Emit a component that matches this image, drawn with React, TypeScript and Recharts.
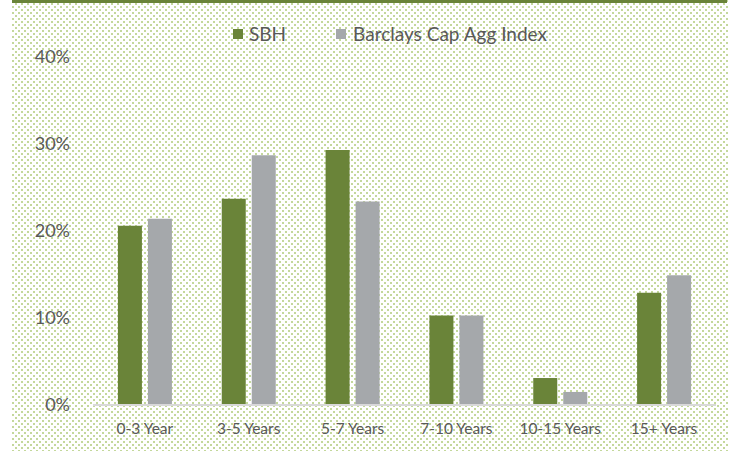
import * as React from 'react';
import { BarChart, Bar, XAxis, YAxis } from 'recharts';

const categories = ['0-3 Year', '3-5 Years', '5-7 Years', '7-10 Years', '10-15 Years', '15+ Years'];
const sbh = [0.206, 0.237, 0.293, 0.103, 0.031, 0.129];
const barclays = [0.214, 0.287, 0.234, 0.103, 0.015, 0.149];
const yTicks = [0, 0.1, 0.2, 0.3, 0.4];

const GREEN = '#6a8439';
const GRAY = '#a5a8ab';
const TEXT = '#595959';
const FONT = 'Lato, "Open Sans", sans-serif';

const dots =
  "url(\"data:image/svg+xml;utf8,<svg xmlns='http://www.w3.org/2000/svg' width='6' height='6'>" +
  "<rect x='0' y='0' width='2' height='2' fill='%23c4d89c'/>" +
  "<rect x='3' y='3' width='2' height='2' fill='%23c4d89c'/></svg>\")";

const data = categories.map((name, i) => ({ name, sbh: sbh[i], barclays: barclays[i] }));

export default function App() {
  return (
    <div style={{ position: 'relative', width: 729, height: 451, background: '#fff', fontFamily: FONT }}>
      <style>{'body{margin:0}'}</style>
      {/* patterned chart area */}
      <div
        style={{
          position: 'absolute',
          left: 12,
          top: 0,
          width: 717,
          height: 451,
          backgroundImage: dots,
        }}
      />
      <div style={{ position: 'absolute', left: 12, top: 0, width: 715, height: 3, background: GREEN }} />

      {/* legend */}
      <div
        style={{
          position: 'absolute',
          top: 22,
          left: 233,
          display: 'flex',
          alignItems: 'center',
          fontSize: 19,
          color: TEXT,
          whiteSpace: 'nowrap',
        }}
      >
        <span style={{ width: 10, height: 10, background: GREEN, display: 'inline-block', marginRight: 6 }} />
        <span>SBH</span>
        <span style={{ width: 10, height: 10, background: GRAY, display: 'inline-block', marginLeft: 50, marginRight: 7 }} />
        <span>Barclays Cap Agg Index</span>
      </div>

      <div style={{ position: 'absolute', left: 0, top: 0 }}>
        <BarChart
          width={729}
          height={451}
          data={data}
          margin={{ top: 57, right: 13, bottom: 0, left: 0 }}
          barCategoryGap="24%"
          barGap={6}
        >
          <XAxis
            dataKey="name"
            axisLine={{ stroke: '#d9d9d9', strokeWidth: 2 }}
            tickLine={false}
            height={46}
            tickMargin={12}
            tick={{ fill: TEXT, fontSize: 15.5, fontFamily: FONT }}
            interval={0}
          />
          <YAxis
            domain={[0, 0.4]}
            ticks={yTicks}
            width={93}
            axisLine={false}
            tickLine={false}
            tickMargin={17}
            tickFormatter={(v: number) => `${Math.round(v * 100)}%`}
            tick={{ fill: TEXT, fontSize: 18, fontFamily: FONT }}
          />
          <Bar dataKey="sbh" name="SBH" fill={GREEN} isAnimationActive={false} />
          <Bar dataKey="barclays" name="Barclays Cap Agg Index" fill={GRAY} isAnimationActive={false} />
        </BarChart>
      </div>
    </div>
  );
}
